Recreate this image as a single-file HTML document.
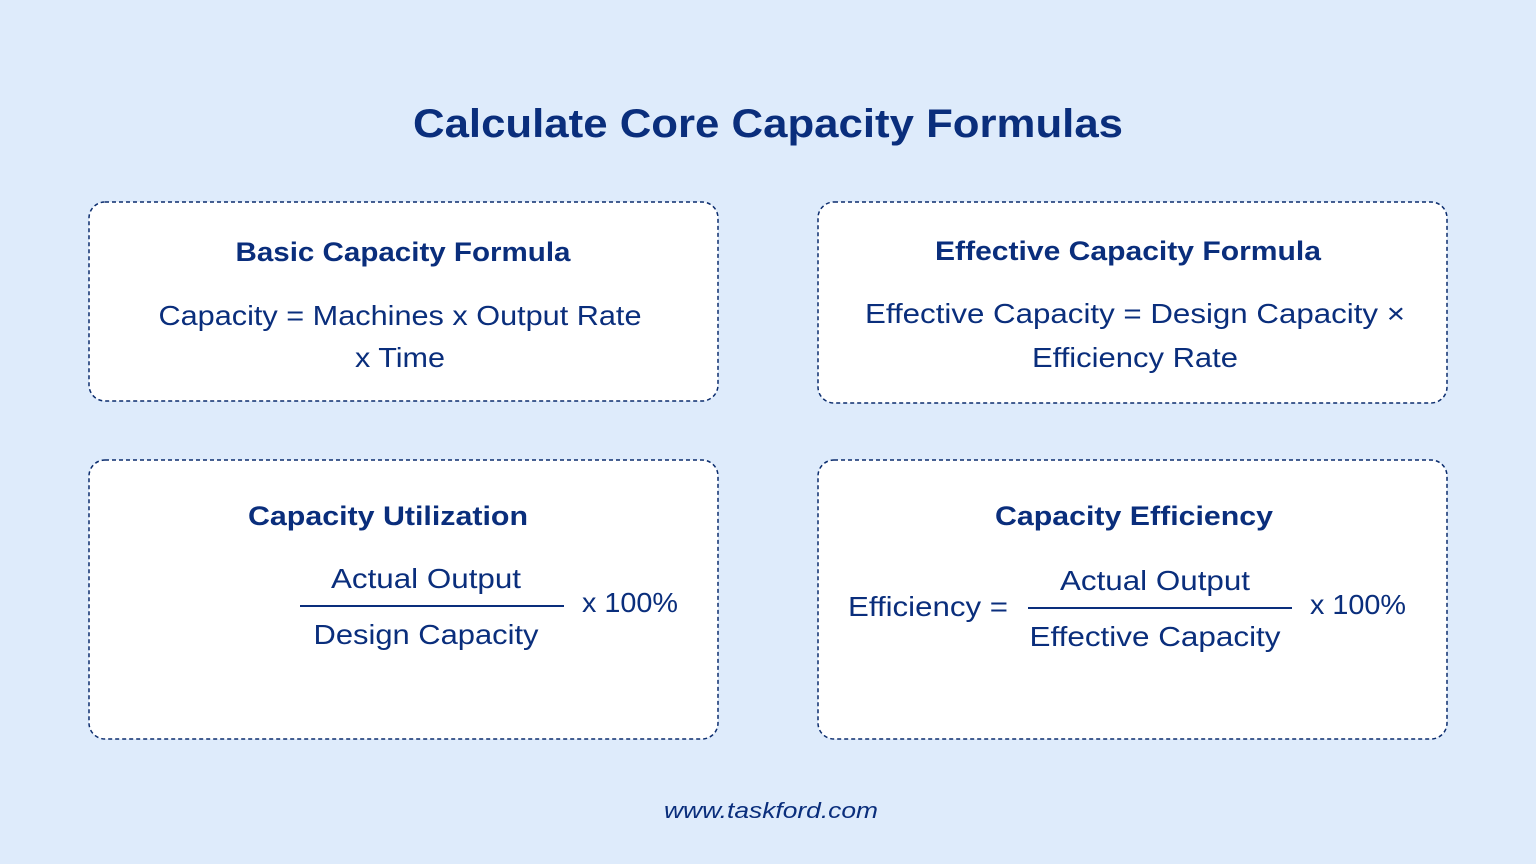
<!DOCTYPE html>
<html><head><meta charset="utf-8"><style>
html,body{margin:0;padding:0;background:#deebfb;}
svg{display:block;font-family:"Liberation Sans",sans-serif;}
</style></head><body>
<svg width="1536" height="864" viewBox="0 0 1536 864">
<rect width="1536" height="864" fill="#deebfb"/>
<g fill="#fff" stroke="#0c2d6e" stroke-width="1.5" stroke-dasharray="4,3">
<rect x="89" y="202" width="629" height="199" rx="16"/>
<rect x="818" y="202" width="629" height="201" rx="16"/>
<rect x="89" y="460" width="629" height="279" rx="16"/>
<rect x="818" y="460" width="629" height="279" rx="16"/>
</g>
<g fill="#0a2e7c">
<text x="768" y="137" font-size="40" font-weight="bold" text-anchor="middle" textLength="710" lengthAdjust="spacingAndGlyphs">Calculate Core Capacity Formulas</text>
<text x="403" y="261" font-size="27" font-weight="bold" text-anchor="middle" textLength="335" lengthAdjust="spacingAndGlyphs">Basic Capacity Formula</text>
<text x="1128" y="260" font-size="27" font-weight="bold" text-anchor="middle" textLength="386" lengthAdjust="spacingAndGlyphs">Effective Capacity Formula</text>
<text x="388" y="525" font-size="27" font-weight="bold" text-anchor="middle" textLength="280" lengthAdjust="spacingAndGlyphs">Capacity Utilization</text>
<text x="1134" y="525" font-size="27" font-weight="bold" text-anchor="middle" textLength="278" lengthAdjust="spacingAndGlyphs">Capacity Efficiency</text>
</g>
<g fill="#0a2e7c" font-size="28">
<text x="400" y="325" text-anchor="middle" textLength="483" lengthAdjust="spacingAndGlyphs">Capacity = Machines x Output Rate</text>
<text x="400" y="367" text-anchor="middle" textLength="90" lengthAdjust="spacingAndGlyphs">x Time</text>
<text x="1135" y="323" text-anchor="middle" textLength="540" lengthAdjust="spacingAndGlyphs">Effective Capacity = Design Capacity ×</text>
<text x="1135" y="367" text-anchor="middle" textLength="206" lengthAdjust="spacingAndGlyphs">Efficiency Rate</text>
<text x="426" y="588" text-anchor="middle" textLength="190" lengthAdjust="spacingAndGlyphs">Actual Output</text>
<text x="426" y="644" text-anchor="middle" textLength="225" lengthAdjust="spacingAndGlyphs">Design Capacity</text>
<text x="582" y="612" textLength="96" lengthAdjust="spacingAndGlyphs">x 100%</text>
<text x="848" y="616" textLength="160" lengthAdjust="spacingAndGlyphs">Efficiency =</text>
<text x="1155" y="590" text-anchor="middle" textLength="190" lengthAdjust="spacingAndGlyphs">Actual Output</text>
<text x="1155" y="646" text-anchor="middle" textLength="251" lengthAdjust="spacingAndGlyphs">Effective Capacity</text>
<text x="1310" y="614" textLength="96" lengthAdjust="spacingAndGlyphs">x 100%</text>
</g>
<g stroke="#0a2e7c" stroke-width="2">
<line x1="300" y1="606" x2="564" y2="606"/>
<line x1="1028" y1="608" x2="1292" y2="608"/>
</g>
<text x="771" y="818" font-size="22" font-style="italic" fill="#0a2e7c" text-anchor="middle" textLength="214" lengthAdjust="spacingAndGlyphs">www.taskford.com</text>
</svg>
</body></html>
